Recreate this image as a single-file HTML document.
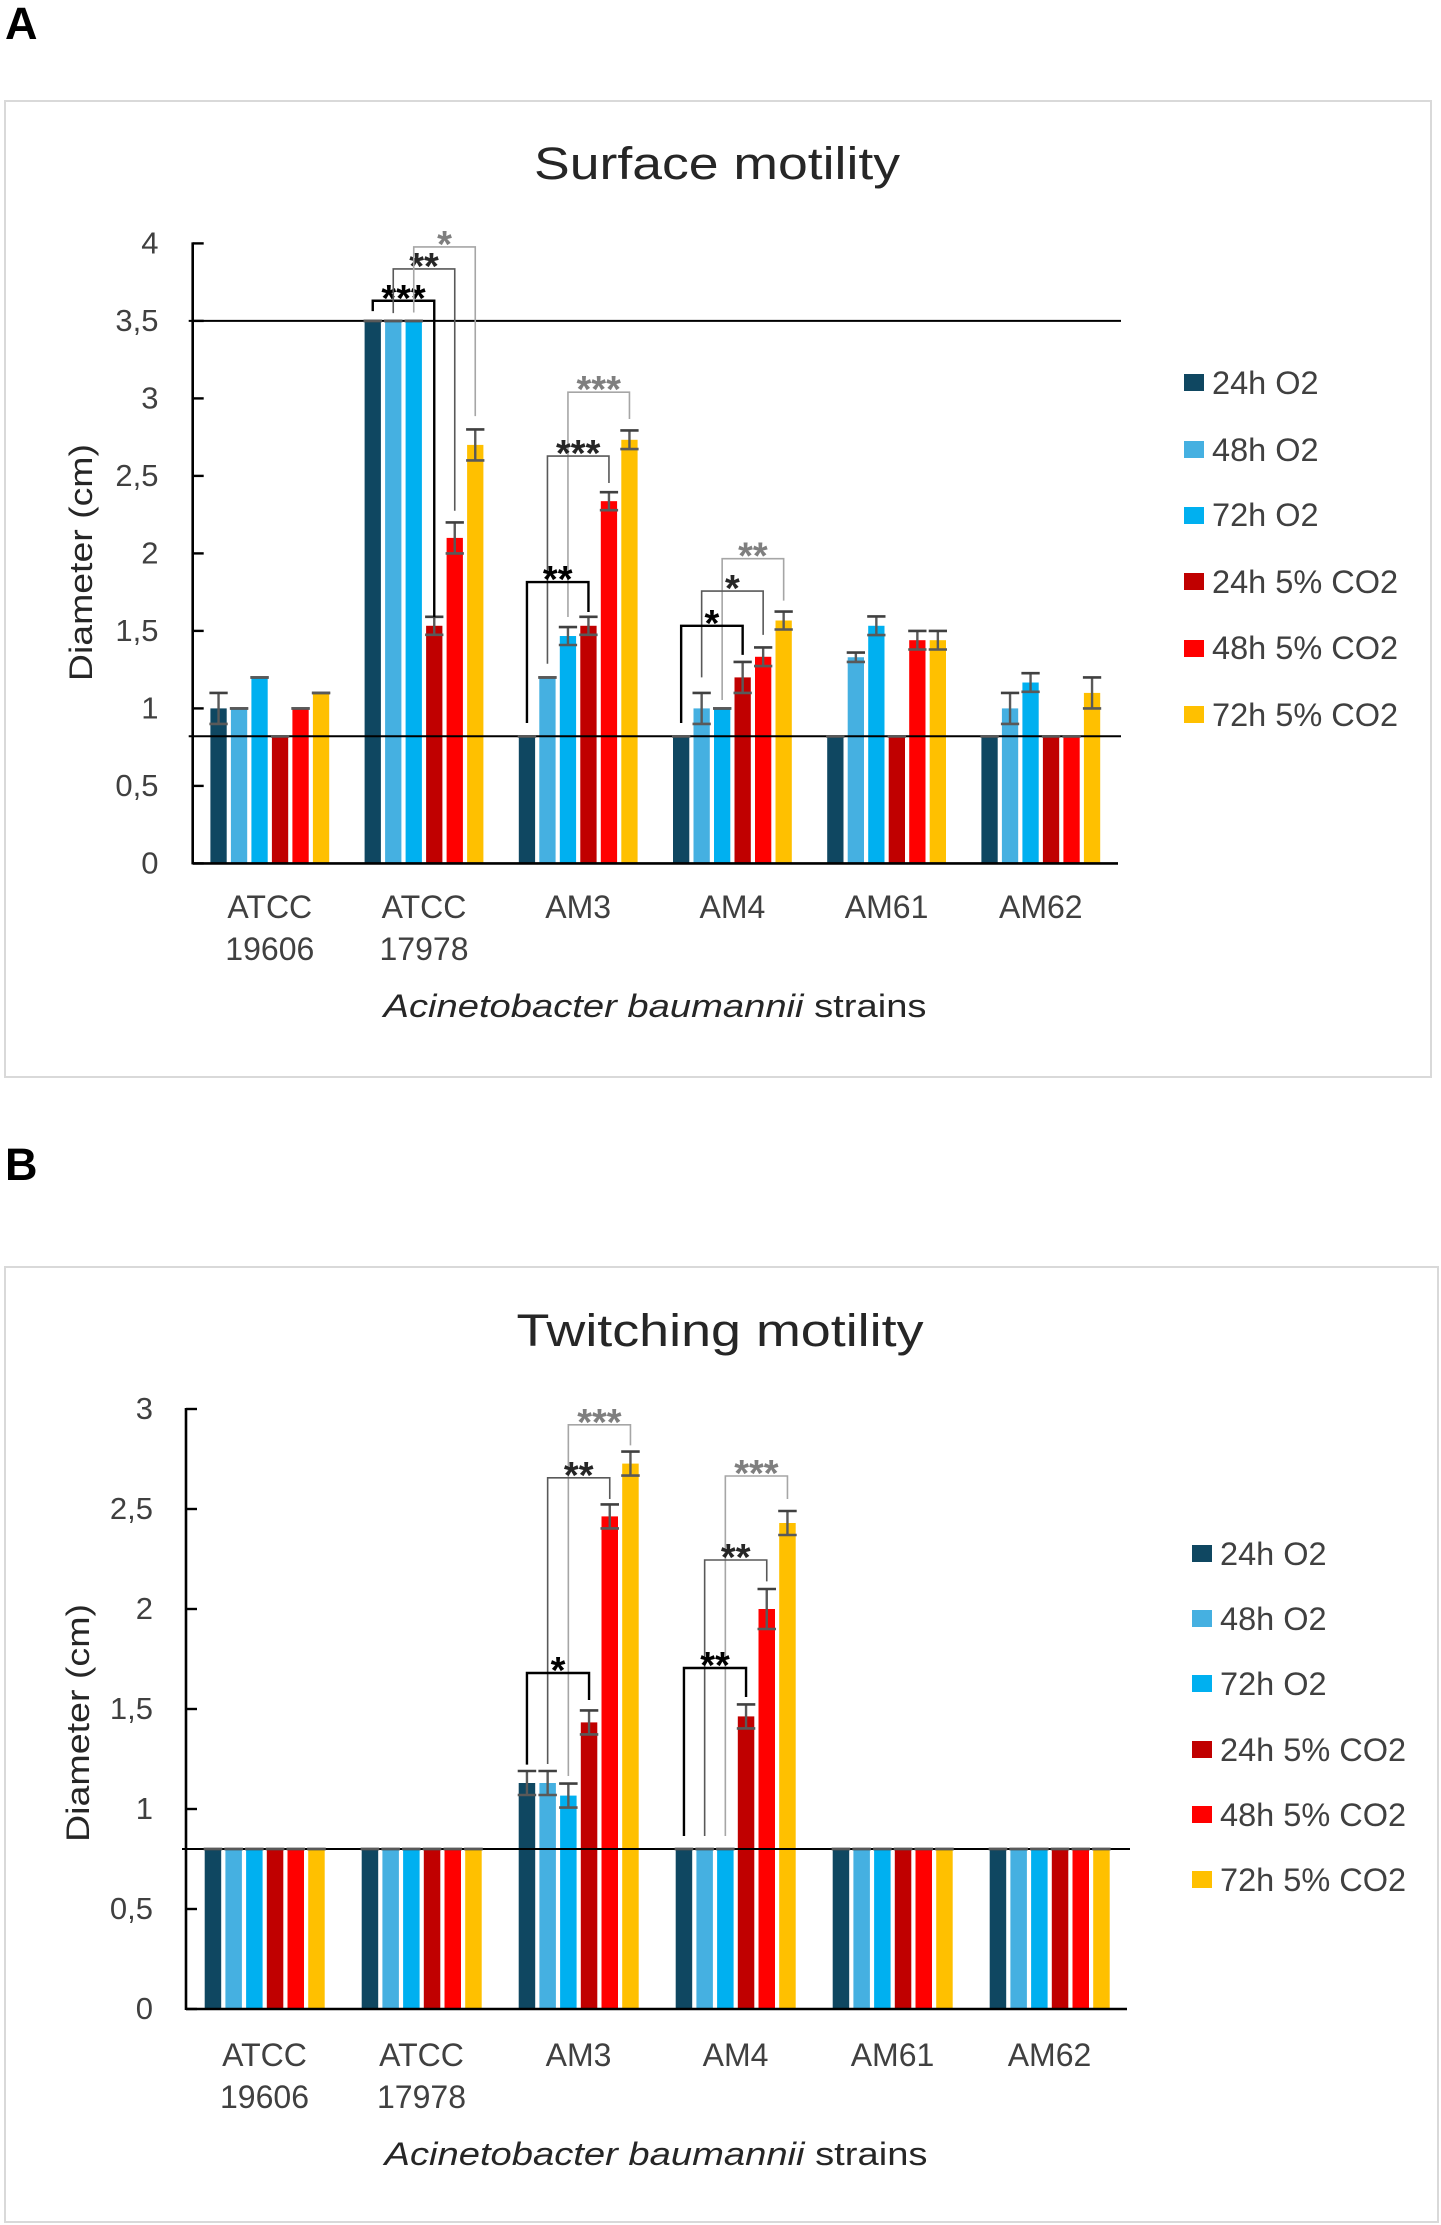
<!DOCTYPE html>
<html lang="en">
<head>
<meta charset="utf-8">
<title>Surface and twitching motility of Acinetobacter baumannii strains</title>
<style>
  html, body { margin: 0; padding: 0; background: #fff; }
  #figure { display: block; font-family: "Liberation Sans", sans-serif; }
  .tick { font-size: 31px; fill: #404040; text-anchor: end; }
  .cat { font-size: 32px; fill: #404040; text-anchor: middle; }
  .legend-text { font-size: 32.5px; fill: #404040; }
  .chart-title { font-size: 45px; fill: #262626; text-anchor: middle; }
  .axis-title { font-size: 32px; fill: #262626; text-anchor: middle; }
  .panel-label { font-size: 45px; font-weight: bold; fill: #000; }
</style>
</head>
<body>
<svg id="figure" xmlns="http://www.w3.org/2000/svg" width="1441" height="2225" viewBox="0 0 1441 2225">
  <rect x="0" y="0" width="1441" height="2225" fill="#fff"/>

  <text class="panel-label" x="5" y="39">A</text>
  <rect x="5" y="101" width="1426" height="976" fill="#fff" stroke="#d9d9d9" stroke-width="2"/>
  <text class="chart-title" x="717" y="179" textLength="366" lengthAdjust="spacingAndGlyphs">Surface motility</text>
  <text class="axis-title" transform="translate(92 562.6) rotate(-90)" textLength="237" lengthAdjust="spacingAndGlyphs">Diameter (cm)</text>
  <text class="axis-title" x="655" y="1017" textLength="543" lengthAdjust="spacingAndGlyphs"><tspan font-style="italic">Acinetobacter baumannii</tspan> strains</text>
  <g>
    <rect x="1184" y="374" width="20" height="17" fill="#0f4761"/>
    <text class="legend-text" x="1212" y="394">24h O2</text>
    <rect x="1184" y="441" width="20" height="17" fill="#45b0e1"/>
    <text class="legend-text" x="1212" y="461">48h O2</text>
    <rect x="1184" y="507" width="20" height="17" fill="#00b0f0"/>
    <text class="legend-text" x="1212" y="526">72h O2</text>
    <rect x="1184" y="573" width="20" height="17" fill="#c00000"/>
    <text class="legend-text" x="1212" y="593">24h 5% CO2</text>
    <rect x="1184" y="640" width="20" height="17" fill="#ff0000"/>
    <text class="legend-text" x="1212" y="659">48h 5% CO2</text>
    <rect x="1184" y="706" width="20" height="17" fill="#ffc000"/>
    <text class="legend-text" x="1212" y="726">72h 5% CO2</text>
  </g>

  <text class="panel-label" x="5" y="1180">B</text>
  <rect x="5" y="1267" width="1433" height="955" fill="#fff" stroke="#d9d9d9" stroke-width="2"/>
  <text class="chart-title" x="720" y="1346" textLength="407" lengthAdjust="spacingAndGlyphs">Twitching motility</text>
  <text class="axis-title" transform="translate(89 1723) rotate(-90)" textLength="238" lengthAdjust="spacingAndGlyphs">Diameter (cm)</text>
  <text class="axis-title" x="656" y="2165" textLength="543" lengthAdjust="spacingAndGlyphs"><tspan font-style="italic">Acinetobacter baumannii</tspan> strains</text>
  <g>
    <rect x="1192" y="1545" width="20" height="17" fill="#0f4761"/>
    <text class="legend-text" x="1220" y="1565">24h O2</text>
    <rect x="1192" y="1610" width="20" height="17" fill="#45b0e1"/>
    <text class="legend-text" x="1220" y="1630">48h O2</text>
    <rect x="1192" y="1675" width="20" height="17" fill="#00b0f0"/>
    <text class="legend-text" x="1220" y="1695">72h O2</text>
    <rect x="1192" y="1741" width="20" height="17" fill="#c00000"/>
    <text class="legend-text" x="1220" y="1761">24h 5% CO2</text>
    <rect x="1192" y="1806" width="20" height="17" fill="#ff0000"/>
    <text class="legend-text" x="1220" y="1826">48h 5% CO2</text>
    <rect x="1192" y="1871" width="20" height="17" fill="#ffc000"/>
    <text class="legend-text" x="1220" y="1891">72h 5% CO2</text>
  </g>
</svg>

<script>
// ---------- shared data ----------
const strainLines = [["ATCC", "19606"], ["ATCC", "17978"], ["AM3"], ["AM4"], ["AM61"], ["AM62"]];
const strainSlugs = ["atcc-19606", "atcc-17978", "am3", "am4", "am61", "am62"];
const seriesSlugs = ["24h-o2", "48h-o2", "72h-o2", "24h-co2", "48h-co2", "72h-co2"];
const seriesColors = ["#0f4761", "#45b0e1", "#00b0f0", "#c00000", "#ff0000", "#ffc000"];

// ---------- panel A: surface motility ----------
const surfaceTickLabels = ["0", "0,5", "1", "1,5", "2", "2,5", "3", "3,5", "4"];
const surfaceTickValues = [0, 0.5, 1, 1.5, 2, 2.5, 3, 3.5, 4];
const surfaceRefLines = [0.82, 3.5];
const surface24hO2  = [1.0, 3.5, 0.82, 0.82, 0.82, 0.82];
const surface48hO2  = [1.0, 3.5, 1.2, 1.0, 1.33, 1.0];
const surface72hO2  = [1.2, 3.5, 1.467, 1.0, 1.533, 1.167];
const surface24hCo2 = [0.82, 1.533, 1.533, 1.2, 0.82, 0.82];
const surface48hCo2 = [1.0, 2.1, 2.337, 1.333, 1.44, 0.82];
const surface72hCo2 = [1.1, 2.7, 2.733, 1.567, 1.44, 1.1];
const surfaceErr24hO2  = [0.1, 0, 0, 0, 0, 0];
const surfaceErr48hO2  = [0, 0, 0, 0.1, 0.03, 0.1];
const surfaceErr72hO2  = [0, 0, 0.058, 0, 0.06, 0.06];
const surfaceErr24hCo2 = [0, 0.058, 0.058, 0.1, 0, 0];
const surfaceErr48hCo2 = [0, 0.1, 0.058, 0.06, 0.06, 0];
const surfaceErr72hCo2 = [0, 0.1, 0.06, 0.058, 0.06, 0.1];
// group, from-series, to-series, bracket value, left-leg end value, right-leg end value, stars, tone
const surfaceBrackets = [
  [1, 0, 3, 3.63, 3.563, 1.59, "***", "black"],
  [1, 1, 4, 3.835, 3.55, 2.275, "**", "dark"],
  [1, 2, 5, 3.977, 3.554, 2.886, "*", "light"],
  [2, 2, 5, 3.04, 1.59, 2.867, "***", "light"],
  [2, 1, 4, 2.628, 1.288, 2.454, "***", "dark"],
  [2, 0, 3, 1.815, 0.906, 1.622, "**", "black"],
  [3, 2, 5, 1.966, 1.054, 1.695, "**", "light"],
  [3, 1, 4, 1.757, 1.2, 1.474, "*", "dark"],
  [3, 0, 3, 1.533, 0.906, 1.345, "*", "black"]
];

// ---------- panel B: twitching motility ----------
const twitchTickLabels = ["0", "0,5", "1", "1,5", "2", "2,5", "3"];
const twitchTickValues = [0, 0.5, 1, 1.5, 2, 2.5, 3];
const twitchRefLines = [0.8];
const twitch24hO2  = [0.8, 0.8, 1.13, 0.8, 0.8, 0.8];
const twitch48hO2  = [0.8, 0.8, 1.13, 0.8, 0.8, 0.8];
const twitch72hO2  = [0.8, 0.8, 1.067, 0.8, 0.8, 0.8];
const twitch24hCo2 = [0.8, 0.8, 1.433, 1.463, 0.8, 0.8];
const twitch48hCo2 = [0.8, 0.8, 2.463, 2.0, 0.8, 0.8];
const twitch72hCo2 = [0.8, 0.8, 2.727, 2.43, 0.8, 0.8];
const twitchErr24hO2  = [0, 0, 0.06, 0, 0, 0];
const twitchErr48hO2  = [0, 0, 0.06, 0, 0, 0];
const twitchErr72hO2  = [0, 0, 0.06, 0, 0, 0];
const twitchErr24hCo2 = [0, 0, 0.06, 0.06, 0, 0];
const twitchErr48hCo2 = [0, 0, 0.06, 0.1, 0, 0];
const twitchErr72hCo2 = [0, 0, 0.06, 0.06, 0, 0];
const twitchBrackets = [
  [2, 2, 5, 2.921, 1.165, 2.818, "***", "light"],
  [2, 1, 4, 2.656, 1.225, 2.55, "**", "dark"],
  [2, 0, 3, 1.68, 1.222, 1.545, "*", "black"],
  [3, 2, 5, 2.665, 0.865, 2.55, "***", "light"],
  [3, 1, 4, 2.245, 0.865, 2.138, "**", "dark"],
  [3, 0, 3, 1.705, 0.865, 1.56, "**", "black"]
];

// ---------- drawing ----------
const NS = "http://www.w3.org/2000/svg";
const figure = document.getElementById("figure");
const toneStroke = { black: "#000000", dark: "#595959", light: "#a6a6a6" };
const toneWidth = { black: 2.4, dark: 1.6, light: 1.6 };
const toneText = { black: "#000000", dark: "#262626", light: "#7f7f7f" };

function makeLine(parent, x1, y1, x2, y2, stroke, width) {
  const el = document.createElementNS(NS, "line");
  el.setAttribute("x1", x1);
  el.setAttribute("y1", y1);
  el.setAttribute("x2", x2);
  el.setAttribute("y2", y2);
  el.setAttribute("stroke", stroke);
  el.setAttribute("stroke-width", width);
  parent.appendChild(el);
  return el;
}

function makeText(parent, x, y, cls, content) {
  const el = document.createElementNS(NS, "text");
  el.setAttribute("x", x);
  el.setAttribute("y", y);
  el.setAttribute("class", cls);
  el.textContent = content;
  parent.appendChild(el);
  return el;
}

function drawChart(cfg) {
  const yScale = v => cfg.y0 - v * cfg.unit;
  const barX = (g, s) => cfg.firstBar + g * cfg.groupStep + s * cfg.barStep;
  const barCenter = (g, s) => barX(g, s) + cfg.barWidth / 2;
  const groupCenter = g => cfg.axisX + (g + 0.5) * cfg.groupStep;

  const root = document.createElementNS(NS, "g");
  
  
  figure.appendChild(root);

  // bars
  cfg.values.forEach((series, s) => {
    series.forEach((v, g) => {
      const bar = document.createElementNS(NS, "rect");
      bar.setAttribute("x", barX(g, s));
      bar.setAttribute("y", yScale(v));
      bar.setAttribute("width", cfg.barWidth);
      bar.setAttribute("height", yScale(0) - yScale(v));
      bar.setAttribute("fill", seriesColors[s]);
      
      
      root.appendChild(bar);
    });
  });

  // reference lines
  cfg.refLines.forEach(v => {
    const ref = makeLine(root, cfg.axisX - 4, yScale(v), cfg.axisEnd + 3, yScale(v), "#000", 2);
    
    
  });

  // error bars
  cfg.values.forEach((series, s) => {
    series.forEach((v, g) => {
      const e = cfg.errors[s][g];
      const cx = barCenter(g, s);
      const half = cfg.barWidth / 2 + 1;
      const grp = document.createElementNS(NS, "g");
      
      
      root.appendChild(grp);
      makeLine(grp, cx, yScale(v + e), cx, yScale(v - e), "#595959", 2.4);
      makeLine(grp, cx - half, yScale(v + e), cx + half, yScale(v + e), "#404040", 2.6);
      makeLine(grp, cx - half, yScale(v - e), cx + half, yScale(v - e), "#595959", 2.6);
    });
  });

  // significance brackets
  cfg.brackets.forEach(b => {
    const left = barCenter(b[0], b[1]);
    const right = barCenter(b[0], b[2]);
    const top = yScale(b[3]);
    const path = document.createElementNS(NS, "path");
    path.setAttribute("d", "M" + left + " " + yScale(b[4]) + "V" + top + "H" + right + "V" + yScale(b[5]));
    path.setAttribute("fill", "none");
    path.setAttribute("stroke", toneStroke[b[7]]);
    path.setAttribute("stroke-width", toneWidth[b[7]]);
    
    
    root.appendChild(path);
    const stars = makeText(root, (left + right) / 2, top + 10, "stars", b[6]);
    stars.setAttribute("text-anchor", "middle");
    stars.setAttribute("font-size", "38");
    stars.setAttribute("font-weight", "bold");
    stars.setAttribute("fill", toneText[b[7]]);
    
    
  });

  // axes
  const yAxis = makeLine(root, cfg.axisX, yScale(cfg.tickValues[cfg.tickValues.length - 1]) - 1, cfg.axisX, yScale(0) + 1, "#000", 2.6);
  
  
  const xAxis = makeLine(root, cfg.axisX, yScale(0), cfg.axisEnd, yScale(0), "#000", 2.6);
  
  

  cfg.tickValues.forEach((v, i) => {
    const tick = makeLine(root, cfg.axisX, yScale(v), cfg.axisX + 11, yScale(v), "#000", 2.4);
    
    
    const label = makeText(root, cfg.tickLabelX, yScale(v) + 10, "tick", cfg.tickLabels[i]);
    
    
  });

  strainLines.forEach((lines, g) => {
    lines.forEach((line, n) => {
      const label = makeText(root, groupCenter(g), cfg.catY + n * cfg.catLeading, "cat", line);
      
      
    });
  });
}

drawChart({
  id: "chart-a",
  values: [surface24hO2, surface48hO2, surface72hO2, surface24hCo2, surface48hCo2, surface72hCo2],
  errors: [surfaceErr24hO2, surfaceErr48hO2, surfaceErr72hO2, surfaceErr24hCo2, surfaceErr48hCo2, surfaceErr72hCo2],
  brackets: surfaceBrackets,
  refLines: surfaceRefLines,
  tickValues: surfaceTickValues,
  tickLabels: surfaceTickLabels,
  axisX: 192.7, axisEnd: 1118, y0: 863.4, unit: 155,
  firstBar: 210.4, groupStep: 154.2, barStep: 20.5, barWidth: 16.3,
  tickLabelX: 158.5, catY: 918, catLeading: 42
});

drawChart({
  id: "chart-b",
  values: [twitch24hO2, twitch48hO2, twitch72hO2, twitch24hCo2, twitch48hCo2, twitch72hCo2],
  errors: [twitchErr24hO2, twitchErr48hO2, twitchErr72hO2, twitchErr24hCo2, twitchErr48hCo2, twitchErr72hCo2],
  brackets: twitchBrackets,
  refLines: twitchRefLines,
  tickValues: twitchTickValues,
  tickLabels: twitchTickLabels,
  axisX: 186, axisEnd: 1127, y0: 2009, unit: 200,
  firstBar: 204.7, groupStep: 157, barStep: 20.7, barWidth: 16.5,
  tickLabelX: 153, catY: 2066, catLeading: 42
});
</script>
</body>
</html>
